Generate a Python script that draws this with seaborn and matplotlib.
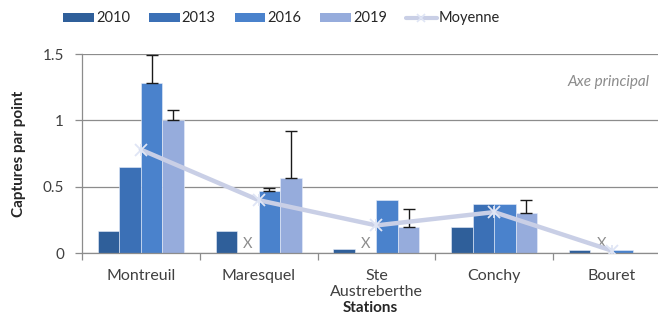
import numpy as np
import pandas as pd
import matplotlib
matplotlib.use("Agg")
import matplotlib.pyplot as plt
from matplotlib.lines import Line2D
from matplotlib.patches import Patch
import seaborn as sns

# Captures per point by station and survey year
stations = ["Montreuil", "Maresquel", "Ste\nAustreberthe", "Conchy", "Bouret"]
years = ["2010", "2013", "2016", "2019"]
v2010 = [0.17, 0.17, 0.03, 0.20, 0.025]
v2013 = [0.65, np.nan, np.nan, 0.37, np.nan]
v2016 = [1.28, 0.47, 0.40, 0.37, 0.025]
v2019 = [1.00, 0.57, 0.20, 0.30, 0.0]
# upper error bars (absolute top of the whisker)
e2016 = [1.49, 0.49, np.nan, np.nan, np.nan]
e2019 = [1.08, 0.92, 0.33, 0.40, np.nan]
moyenne = [0.78, 0.40, 0.21, 0.31, 0.02]

colors = ["#2f5f9a", "#3b70b6", "#4a82cc", "#96acdc"]
mean_color = "#c9cfe6"
text_color = "#404040"

sns.set_theme(style="white")
plt.rcParams["font.family"] = ["Lato", "DejaVu Sans"]

rows = []
for y, vals in zip(years, [v2010, v2013, v2016, v2019]):
    for s, v in zip(stations, vals):
        if not np.isnan(v):
            rows.append({"Station": s, "Année": y, "Valeur": v})
df = pd.DataFrame(rows)

fig = plt.figure(figsize=(6.58, 3.21), dpi=100)
ax = fig.add_axes([82 / 658, (321 - 253.3) / 321, (658 - 82) / 658, 199.3 / 321])

group_w = 0.73
sns.barplot(data=df, x="Station", y="Valeur", hue="Année", order=stations,
            hue_order=years, palette=colors, width=group_w, errorbar=None,
            saturation=1, edgecolor="#e8eefa", linewidth=0.4, ax=ax, legend=False)

bar_w = group_w / len(years)
def xpos(ci, hi):
    return ci + (hi - (len(years) - 1) / 2) * bar_w

# one-sided error bars
for hi, (vals, tops) in enumerate([(v2010, [np.nan] * 5), (v2013, [np.nan] * 5),
                                   (v2016, e2016), (v2019, e2019)]):
    for ci in range(len(stations)):
        if not np.isnan(tops[ci]):
            x = xpos(ci, hi)
            ax.errorbar([x], [vals[ci]], yerr=[[0], [tops[ci] - vals[ci]]],
                        fmt="none", ecolor="#1a1a1a", elinewidth=1.0,
                        capsize=4, capthick=1.0, zorder=4, clip_on=False)

# "X" where the year was not sampled
for hi, vals in enumerate([v2010, v2013, v2016, v2019]):
    for ci in range(len(stations)):
        if np.isnan(vals[ci]):
            ax.text(xpos(ci, hi), 0.015, "X", ha="center", va="bottom",
                    fontsize=10.5, color="#8c8c8c", zorder=5)

# mean across years
xs = np.arange(len(stations))
ax.plot(xs, moyenne, color=mean_color, lw=3.2, zorder=6, solid_capstyle="round")
ax.plot(xs, moyenne, ls="none", marker="x", ms=8, mew=1.3, color="#dfe5f5", zorder=7)
ax.plot(xs, moyenne, ls="none", marker="|", ms=9, mew=1.3, color="#dfe5f5", zorder=7)

ax.set_ylim(0, 1.5)
ax.set_xlim(-0.5, -0.5 + (658 - 82) / 117.75)
ax.set_yticks([0, 0.5, 1, 1.5])
ax.set_yticklabels(["0", "0.5", "1", "1.5"])
ax.yaxis.grid(True, color="#8c8c8c", lw=0.9)
ax.set_axisbelow(True)
for side in ["top", "right"]:
    ax.spines[side].set_visible(False)
for side in ["left", "bottom"]:
    ax.spines[side].set_color("#8c8c8c")
    ax.spines[side].set_linewidth(0.9)

ax.set_xticks(xs)
ax.set_xticklabels(stations, linespacing=1.25)
ax.set_xticks(np.arange(len(stations)) - 0.5, minor=True)
ax.tick_params(axis="x", which="major", length=0, pad=11, labelsize=11.5, labelcolor=text_color)
ax.tick_params(axis="x", which="minor", length=5, color="#8c8c8c", width=0.9, direction="out")
ax.tick_params(axis="y", length=5, color="#8c8c8c", width=0.9, direction="out",
               labelsize=11, labelcolor=text_color, pad=8)
ax.tick_params(bottom=False, which="major")
ax.tick_params(bottom=True, which="minor", left=False)
ax.tick_params(axis="y", which="major", left=True)

ax.set_xlabel("Stations", fontsize=11, fontweight="bold", color="#262626", labelpad=1)
ax.set_ylabel("Captures par point", fontsize=11, fontweight="bold", color="#262626", labelpad=12)

ax.text(0.985, 0.86, "Axe principal", transform=ax.transAxes, ha="right", va="center",
        fontsize=11, style="italic", color="#8c8c8c")

handles = [Patch(facecolor=c, edgecolor="none") for c in colors]
handles.append(Line2D([], [], color=mean_color, lw=3, marker="x", ms=6, mew=1.2,
                      markeredgecolor="#dfe5f5"))
fig.legend(handles, years + ["Moyenne"], loc="center", bbox_to_anchor=(0.428, 0.943),
           ncol=5, frameon=False, fontsize=10.5, handlelength=2.1, handleheight=0.55,
           handletextpad=0.15, columnspacing=1.3, labelcolor="#262626")

fig.savefig("out.png", dpi=100)
